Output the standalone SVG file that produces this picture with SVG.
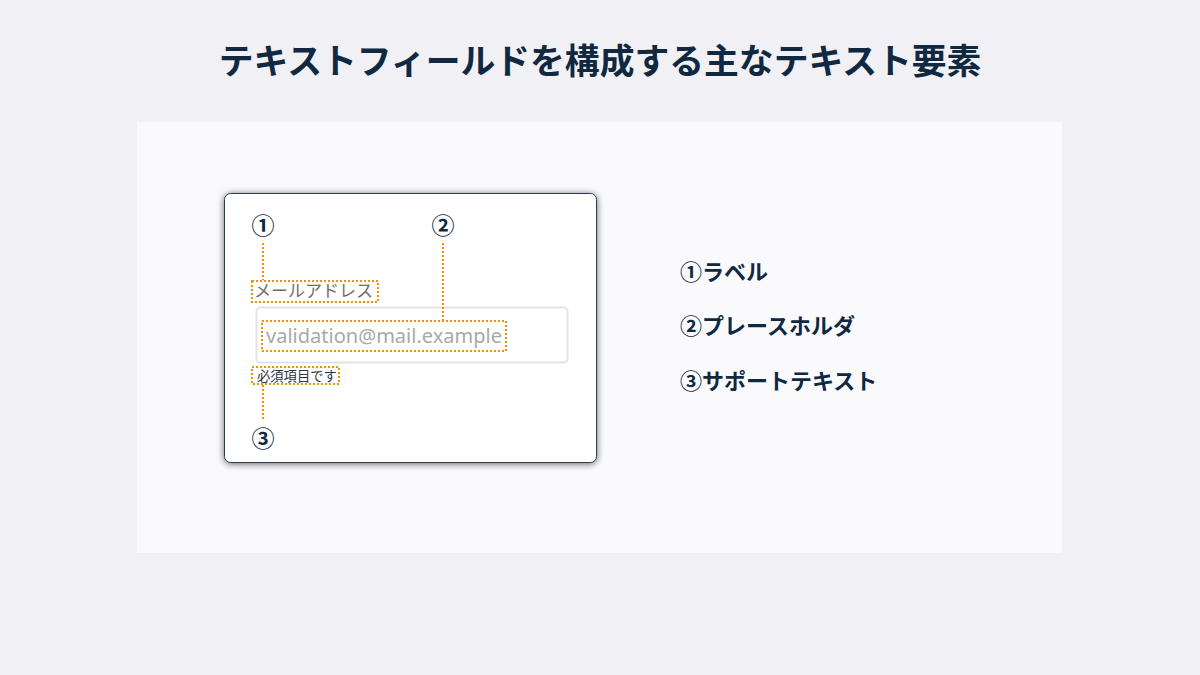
<svg xmlns="http://www.w3.org/2000/svg" width="1200" height="675" viewBox="0 0 1200 675">
<defs>
<style>
.jp{font-family:"Noto Sans CJK JP","Noto Sans",sans-serif}
.num{font-family:"Noto Sans CJK JP","Noto Sans",sans-serif;font-weight:700;fill:#102840;font-size:23px;text-anchor:middle}
.dot{fill:none;stroke:#f39200;stroke-width:2;stroke-dasharray:2 2}
.item{font-family:"Noto Sans CJK JP","Noto Sans",sans-serif;font-weight:700;fill:#102840;font-size:22px}
</style>
<filter id="sh" x="-10%" y="-10%" width="120%" height="120%">
<feGaussianBlur in="SourceAlpha" stdDeviation="3.5"/>
<feOffset dx="0" dy="1" result="b"/>
<feComponentTransfer><feFuncA type="linear" slope="0.6"/></feComponentTransfer>
<feMerge><feMergeNode/><feMergeNode in="SourceGraphic"/></feMerge>
</filter>
</defs>
<rect width="1200" height="675" fill="#f1f1f5"/>
<text x="600" y="74" text-anchor="middle" class="jp" font-size="34.8" font-weight="700" fill="#102840">テキストフィールドを構成する主なテキスト要素</text>
<rect x="137" y="122" width="925" height="431" fill="#fafafc"/>
<g id="card">
<rect x="224.5" y="193.5" width="372" height="269" rx="6" fill="#ffffff" stroke="#2c3e50" stroke-width="1" filter="url(#sh)"/>
</g>
<g id="input">
<rect x="256.5" y="307.5" width="311" height="55" rx="4" fill="#ffffff" stroke="#e3e3e3" stroke-width="2"/>
</g>
<g id="label">
<text x="254" y="297" class="jp" font-size="17" fill="#6e6e6e">メールアドレス</text>
<rect x="252" y="281" width="126" height="21" class="dot"/>
</g>
<g id="placeholder">
<text x="266" y="343" font-family="'Noto Sans','Open Sans',sans-serif" font-size="20" fill="#a9a9a9" textLength="236" lengthAdjust="spacingAndGlyphs">validation@mail.example</text>
<rect x="262" y="321" width="244" height="30" class="dot"/>
</g>
<g id="support">
<text x="257" y="381" class="jp" font-size="13.3" fill="#2a3440">必須項目です</text>
<rect x="252" y="367" width="87" height="17" class="dot"/>
</g>
<g id="markers">
<text x="263" y="234" class="num">①</text>
<text x="443" y="234" class="num">②</text>
<text x="263" y="447" class="num">③</text>
</g>
<g id="connectors">
<line x1="263" y1="243" x2="263" y2="280" class="dot"/>
<line x1="443" y1="243" x2="443" y2="320" class="dot"/>
<line x1="263" y1="385" x2="263" y2="420" class="dot"/>
</g>
<g id="legend">
<text x="680" y="280" class="item">①ラベル</text>
<text x="680" y="334" class="item">②プレースホルダ</text>
<text x="680" y="389" class="item">③サポートテキスト</text>
</g>
</svg>
